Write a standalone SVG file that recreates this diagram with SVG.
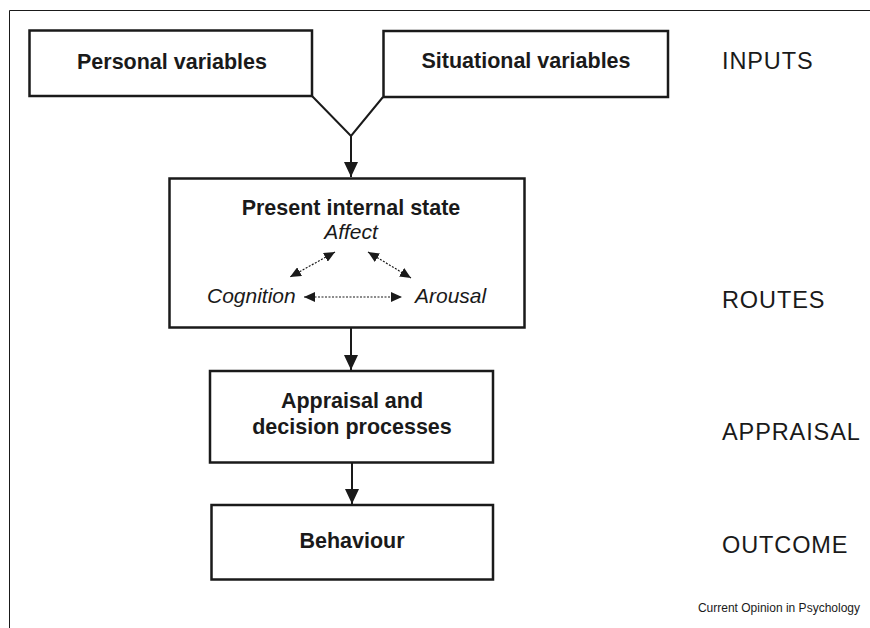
<svg xmlns="http://www.w3.org/2000/svg" width="870" height="628" viewBox="0 0 870 628">
<defs>
<style>
.box{fill:#fff;stroke:#1a1a1a;stroke-width:2.5}
.b{font-family:"Liberation Sans",Arial,sans-serif;font-weight:bold;font-size:21.5px;fill:#1a1a1a;text-anchor:middle}
.i{font-family:"Liberation Sans",Arial,sans-serif;font-style:italic;font-size:21px;fill:#1a1a1a}
.lab{font-family:"Liberation Sans",Arial,sans-serif;font-size:23.5px;letter-spacing:0.9px;fill:#1a1a1a}
.main{fill:none;stroke:#1a1a1a;stroke-width:2}
.dot{fill:none;stroke:#1a1a1a;stroke-width:1.2;stroke-dasharray:2 1.5}
</style>
<marker id="ah" viewBox="0 0 15 14" refX="15" refY="7" markerWidth="15" markerHeight="14" markerUnits="userSpaceOnUse" orient="auto">
<path d="M0,0 L15,7 L0,14 Z" fill="#1a1a1a"/>
</marker>
<marker id="sh" viewBox="0 0 11 10" refX="11" refY="5" markerWidth="11" markerHeight="10" markerUnits="userSpaceOnUse" orient="auto-start-reverse">
<path d="M0,0 L11,5 L0,10 Z" fill="#1a1a1a"/>
</marker>
</defs>
<rect width="870" height="628" fill="#fff"/>
<path d="M9.5,628 V10.5 H870" fill="none" stroke="#1a1a1a" stroke-width="1"/>
<g id="personal">
<rect class="box" x="29.5" y="30.5" width="282.5" height="65.5"/>
<text class="b" x="172" y="69">Personal variables</text>
</g>
<g id="situational">
<rect class="box" x="383.5" y="31" width="284.5" height="66"/>
<text class="b" x="526" y="68">Situational variables</text>
</g>
<g id="present">
<rect class="box" x="169.5" y="178.5" width="355" height="149"/>
<text class="b" x="351" y="215">Present internal state</text>
<text class="i" x="351" y="239" text-anchor="middle">Affect</text>
<text class="i" x="207" y="303">Cognition</text>
<text class="i" x="415" y="303">Arousal</text>
</g>
<g id="appraisal">
<rect class="box" x="210" y="371" width="283" height="91.5"/>
<text class="b" x="352" y="408">Appraisal and</text>
<text class="b" x="352" y="434">decision processes</text>
</g>
<g id="behaviour">
<rect class="box" x="211.5" y="505" width="281.5" height="74.5"/>
<text class="b" x="352" y="548">Behaviour</text>
</g>
<g id="connectors">
<path class="main" d="M312,96 L351,136 L383,97"/>
<path class="main" d="M351,136 V177" marker-end="url(#ah)"/>
<path class="main" d="M351,327 V370" marker-end="url(#ah)"/>
<path class="main" d="M352,462 V504" marker-end="url(#ah)"/>
<path class="dot" d="M335,252 L290,277" marker-start="url(#sh)" marker-end="url(#sh)"/>
<path class="dot" d="M368,252 L411,278" marker-start="url(#sh)" marker-end="url(#sh)"/>
<path class="dot" d="M304,297 H402" marker-start="url(#sh)" marker-end="url(#sh)"/>
</g>
<g id="labels">
<text class="lab" x="722" y="69">INPUTS</text>
<text class="lab" x="722" y="308">ROUTES</text>
<text class="lab" x="722" y="440">APPRAISAL</text>
<text class="lab" x="722" y="553">OUTCOME</text>
<text x="860" y="612" font-family="'Liberation Sans',Arial,sans-serif" font-size="12" fill="#1a1a1a" text-anchor="end">Current Opinion in Psychology</text>
</g>
</svg>
